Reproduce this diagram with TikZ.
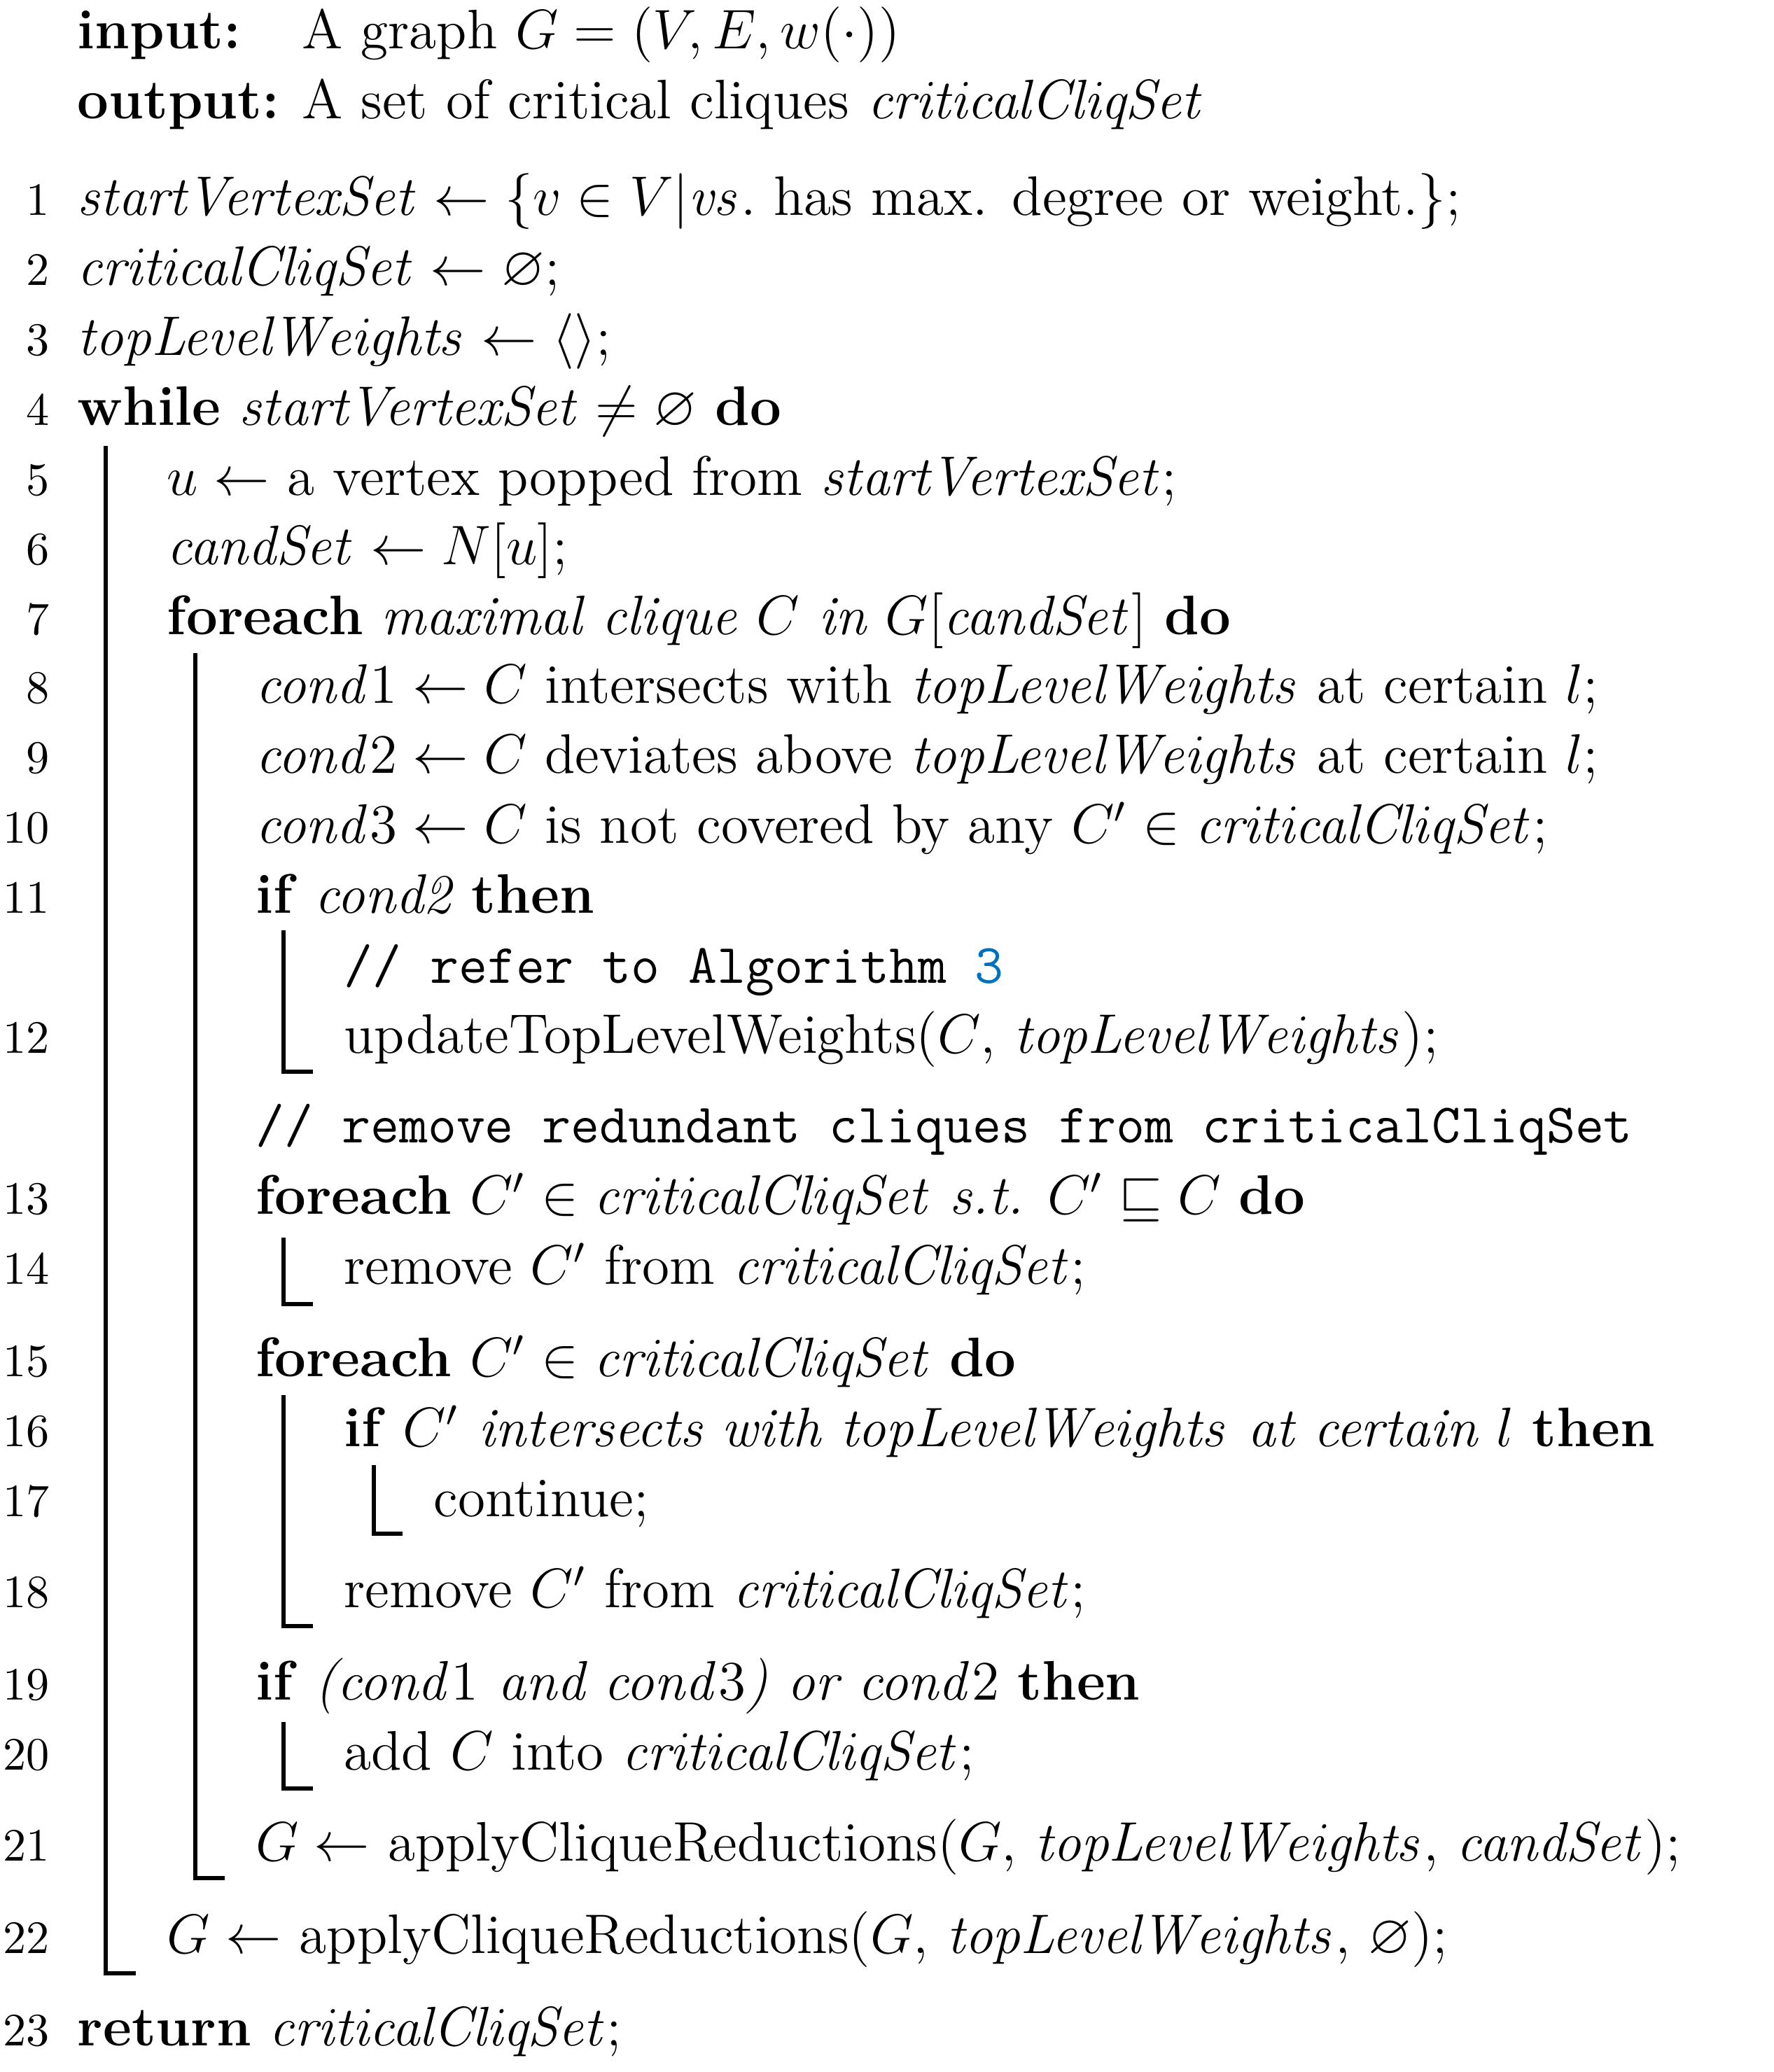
\documentclass[tikz,border=0pt]{standalone}
\usepackage{amsmath,amssymb}
\definecolor{refblue}{RGB}{0,114,189}
\begin{document}
\begin{tikzpicture}[x=0.01cm,y=-0.01cm,
  tx/.style={anchor=base west,inner sep=0pt,font=\fontsize{12}{14}\selectfont},
  ln/.style={anchor=base east,inner sep=0pt,font=\fontsize{10}{12}\selectfont},
  bar/.style={line width=0.9pt}]
\useasboundingbox (0,0) rectangle (1344,1570);
\newcommand{\mi}[1]{\mathit{#1}}
\node[tx] (in) at (58,37) {\textbf{input:}};
\node[tx] (int) at (228,37) {A graph $G=(V,E,w(\cdot))$};
\node[tx] (out) at (58,90) {\textbf{output:}};
\node[tx] (outt) at (228,90) {A set of critical cliques $\mi{criticalCliqSet}$};
\foreach \n/\y in {1/152,2/205,3/258,4/311,5/364,6/417,7/470,8/522,9/575,10/628,11/681,12/787,13/909,14/962,15/1032,16/1085,17/1138,18/1207,19/1277,20/1330,21/1399,22/1469,23/1539}
  \node[ln] (n\n) at (38,\y+11) {\n};
\node[tx] (l1) at (58,163) {$\mi{startVertexSet}\leftarrow\{v\in V|\mi{vs}.$ has max. degree or weight.$\}$;};
\node[tx] (l2) at (58,216) {$\mi{criticalCliqSet}\leftarrow\varnothing$;};
\node[tx] (l3) at (58,269) {$\mi{topLevelWeights}\leftarrow\langle\rangle$;};
\node[tx] (l4) at (58,322) {\textbf{while} $\mi{startVertexSet}\neq\varnothing$ \textbf{do}};
\node[tx] (l5) at (126,375) {$u\leftarrow$ a vertex popped from $\mi{startVertexSet}$;};
\node[tx] (l6) at (126,428) {$\mi{candSet}\leftarrow N[u]$;};
\node[tx] (l7) at (126,481) {\textbf{foreach} \textit{maximal clique $C$ in $G[\mi{candSet}]$} \textbf{do}};
\node[tx] (l8) at (193,533) {$\mi{cond}1\leftarrow C$ intersects with $\mi{topLevelWeights}$ at certain $l$;};
\node[tx] (l9) at (193,586) {$\mi{cond}2\leftarrow C$ deviates above $\mi{topLevelWeights}$ at certain $l$;};
\node[tx] (l10) at (193,639) {$\mi{cond}3\leftarrow C$ is not covered by any $C'\in\mi{criticalCliqSet}$;};
\node[tx] (l11) at (193,692) {\textbf{if} \textit{cond2} \textbf{then}};
\node[tx] (c1) at (260,745) {\texttt{// refer to Algorithm \textcolor{refblue}{3}}};
\node[tx] (l12) at (260,798) {updateTopLevelWeights($C$, $\mi{topLevelWeights}$);};
\node[tx] (c2) at (193,866) {\texttt{// remove redundant cliques from criticalCliqSet}};
\node[tx] (l13) at (193,920) {\textbf{foreach} $C'\in\mi{criticalCliqSet}$ \textit{s.t.} $C'\sqsubseteq C$ \textbf{do}};
\node[tx] (l14) at (260,973) {remove $C'$ from $\mi{criticalCliqSet}$;};
\node[tx] (l15) at (193,1043) {\textbf{foreach} $C'\in\mi{criticalCliqSet}$ \textbf{do}};
\node[tx] (l16) at (260,1096) {\textbf{if} \textit{$C'$ intersects with $\mi{topLevelWeights}$ at certain $l$} \textbf{then}};
\node[tx] (l17) at (328,1149) {continue;};
\node[tx] (l18) at (260,1218) {remove $C'$ from $\mi{criticalCliqSet}$;};
\node[tx] (l19) at (193,1288) {\textbf{if} \textit{($\mi{cond}1$ and $\mi{cond}3$) or $\mi{cond}2$} \textbf{then}};
\node[tx] (l20) at (260,1341) {add $C$ into $\mi{criticalCliqSet}$;};
\node[tx] (l21) at (193,1410) {$G\leftarrow$ applyCliqueReductions($G$, $\mi{topLevelWeights}$, $\mi{candSet}$);};
\node[tx] (l22) at (126,1480) {$G\leftarrow$ applyCliqueReductions($G$, $\mi{topLevelWeights}$, $\varnothing$);};
\node[tx] (l23) at (58,1550) {\textbf{return} $\mi{criticalCliqSet}$;};
\draw[bar] (80,338) -- (80,1495) -- (103,1495);
\draw[bar] (148,495) -- (148,1423) -- (170,1423);
\draw[bar] (215,705) -- (215,812) -- (237,812);
\draw[bar] (215,938) -- (215,988) -- (237,988);
\draw[bar] (215,1057) -- (215,1232) -- (237,1232);
\draw[bar] (283,1110) -- (283,1162) -- (305,1162);
\draw[bar] (215,1305) -- (215,1355) -- (237,1355);
\end{tikzpicture}
\end{document}
